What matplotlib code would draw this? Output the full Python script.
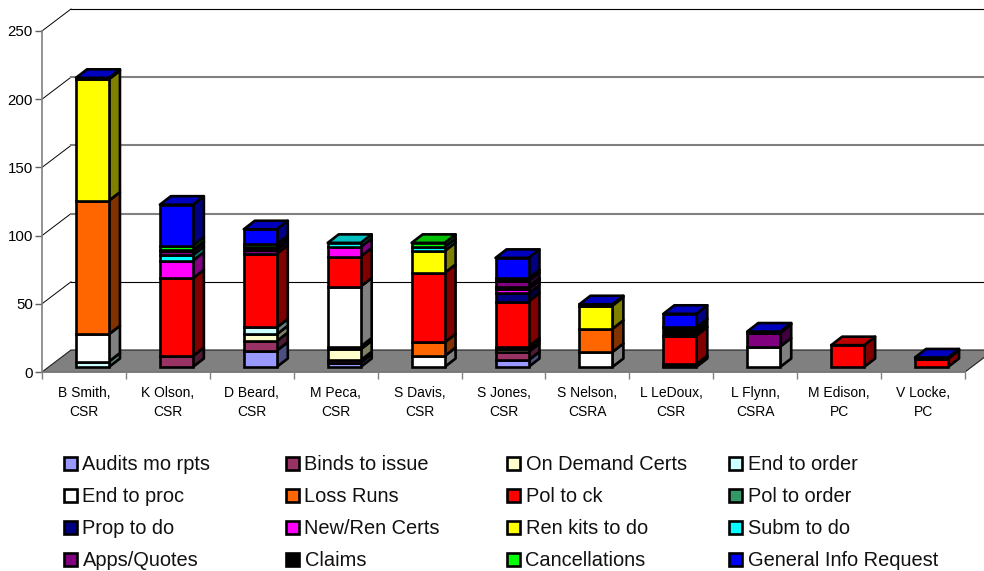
import numpy as np
import matplotlib
matplotlib.use('Agg')
import matplotlib.pyplot as plt
from matplotlib.colors import to_rgb
from matplotlib.patches import Polygon, Rectangle

plt.rcParams['font.family'] = ['Liberation Sans', 'DejaVu Sans']

people = ['B Smith,\nCSR', 'K Olson,\nCSR', 'D Beard,\nCSR', 'M Peca,\nCSR', 'S Davis,\nCSR', 'S Jones,\nCSR',
          'S Nelson,\nCSRA', 'L LeDoux,\nCSR', 'L Flynn,\nCSRA', 'M Edison,\nPC', 'V Locke,\nPC']
y_ticks = [0, 50, 100, 150, 200, 250]

# values, bottom of stack first
audits = [0, 0, 12, 3, 0, 5, 0, 1, 0, 0, 0]
binds = [0, 8, 7, 2, 0, 6, 0, 1, 0, 0, 0]
on_demand = [0, 0, 5, 8, 0, 2, 0, 0, 0, 0, 0]
end_order = [4, 0, 5, 2, 0, 2, 0, 0, 0, 0, 0]
end_proc = [20, 0, 0, 44, 8, 0, 11, 0, 15, 0, 0]
loss_runs = [98, 0, 0, 0, 10, 0, 17, 0, 0, 0, 0]
pol_ck = [0, 57, 54, 22, 51, 33, 0, 21, 0, 16, 6]
pol_order = [0, 0, 0, 0, 0, 0, 0, 0, 0, 0, 0]
prop_do = [0, 0, 0, 0, 0, 6, 0, 0, 0, 0, 0]
new_ren = [0, 13, 0, 7, 0, 3, 0, 0, 0, 0, 0]
ren_kits = [89, 0, 0, 0, 16, 1, 17, 0, 0, 0, 0]
subm = [0, 4, 0, 3, 3, 1, 0, 0, 0, 0, 0]
apps = [0, 3, 3, 0, 0, 4, 0, 0, 10, 0, 0]
claims = [0, 1, 2, 0, 0, 2, 0, 6, 0, 0, 0]
cancels = [0, 3, 2, 0, 3, 0, 0, 0, 0, 0, 0]
general = [1, 30, 11, 0, 0, 15, 1, 10, 1, 0, 1]

series = [audits, binds, on_demand, end_order, end_proc, loss_runs, pol_ck, pol_order,
          prop_do, new_ren, ren_kits, subm, apps, claims, cancels, general]
names = ['Audits mo rpts', 'Binds to issue', 'On Demand Certs', 'End to order',
         'End to proc', 'Loss Runs', 'Pol to ck', 'Pol to order',
         'Prop to do', 'New/Ren Certs', 'Ren kits to do', 'Subm to do',
         'Apps/Quotes', 'Claims', 'Cancellations', 'General Info Request']
colors = ['#9999ff', '#993366', '#ffffcc', '#ccffff', '#ffffff', '#ff6600', '#ff0000', '#339966',
          '#000080', '#ff00ff', '#ffff00', '#00ffff', '#800080', '#000000', '#00ff00', '#0000ff']

W, H = 984, 571
X0, X1, Y0, Y1 = 42, 965, 372, 31   # front plane of the axes, pixels
px_x = (X1 - X0) / 11
px_y = (Y0 - Y1) / 250


def shade(col, k):
  return tuple(c * k for c in to_rgb(col))


fig = plt.figure(figsize=(W / 100, H / 100), dpi=100)
fig.patch.set_facecolor('white')
ax = fig.add_axes([X0 / W, 1 - Y0 / H, (X1 - X0) / W, (Y0 - Y1) / H])
ax.patch.set_visible(False)
ax.set_xlim(0, 11)
ax.set_ylim(0, 250)

# depth of the walls and of the bars, in data units
wall_dx, wall_dy = 29 / px_x, 22 / px_y
bar_dx, bar_dy = 11 / px_x, 8.5 / px_y
bar_left, bar_w = 0.405, 0.393
bar_base = 5 / px_y

# floor
ax.add_patch(Polygon([(0, 0), (wall_dx, wall_dy), (11 + wall_dx, wall_dy), (11, 0)],
                     fc='#808080', ec='#202020', lw=0.8, clip_on=False, zorder=1))

# grid on the side wall and back wall
grid_cols = {50: '#000000', 100: '#808080', 150: '#808080', 200: '#808080', 250: '#000000'}
grid_lw = {50: 0.8, 100: 1.5, 150: 1.5, 200: 1.5, 250: 0.8}
for v in y_ticks[1:]:
  ax.plot([0, wall_dx], [v, v + wall_dy], color='black', lw=0.7, clip_on=False, zorder=1.5)
  ax.plot([wall_dx, 11 + wall_dx], [v + wall_dy, v + wall_dy], color=grid_cols[v], lw=grid_lw[v],
          clip_on=False, zorder=1.5)

# stacked 3d bars
z = 3
for i in range(len(people)):
  x0 = i + bar_left
  x1 = x0 + bar_w
  bottom = bar_base
  used = [s for s in range(len(series)) if series[s][i] > 0]
  for s in used:
    top = bottom + series[s][i]
    col = colors[s]
    ax.add_patch(Polygon([(x1, bottom), (x1 + bar_dx, bottom + bar_dy), (x1 + bar_dx, top + bar_dy), (x1, top)],
                         fc=shade(col, 0.5), ec='black', lw=1.9, joinstyle='round', clip_on=False, zorder=z))
    ax.add_patch(Rectangle((x0, bottom), bar_w, top - bottom,
                           fc=col, ec='black', lw=1.9, clip_on=False, zorder=z))
    if s == used[-1]:
      ax.add_patch(Polygon([(x0, top), (x0 + bar_dx, top + bar_dy), (x1 + bar_dx, top + bar_dy), (x1, top)],
                           fc=shade(col, 0.75), ec='black', lw=1.9, joinstyle='round', clip_on=False, zorder=z))
    bottom = top
    z += 0.01

for side in ['top', 'right']:
  ax.spines[side].set_visible(False)
for side in ['left', 'bottom']:
  ax.spines[side].set_color('#808080')
  ax.spines[side].set_linewidth(1.2)
  ax.spines[side].set_zorder(2)

ax.set_yticks(y_ticks)
ax.tick_params(axis='y', length=5, width=1, color='#606060', labelsize=10.8, pad=1.5)
ax.set_xticks(np.arange(12))
ax.set_xticklabels([])
ax.tick_params(axis='x', which='major', length=5, width=1, color='#808080')
ax.set_xticks(np.arange(11) + 0.5, minor=True)
ax.set_xticklabels(people, minor=True, fontsize=10, linespacing=1.43)
ax.tick_params(axis='x', which='minor', length=0, pad=10)

# legend, columns are evenly spaced like in the original
col_x = [64, 286, 507, 729]
row_y = [463, 495, 527, 559]
for k, (name, col) in enumerate(zip(names, colors)):
  sx = col_x[k % 4]
  sy = row_y[k // 4]
  fig.add_artist(Rectangle((sx / W, 1 - (sy + 6.5) / H), 13 / W, 13 / H, transform=fig.transFigure,
                           fc=col, ec='black', lw=1.9))
  fig.text((sx + 18.5) / W, 1 - sy / H, name, fontsize=14.4, va='center_baseline', ha='left', color='#111111')

fig.savefig('out.png', dpi=100)
